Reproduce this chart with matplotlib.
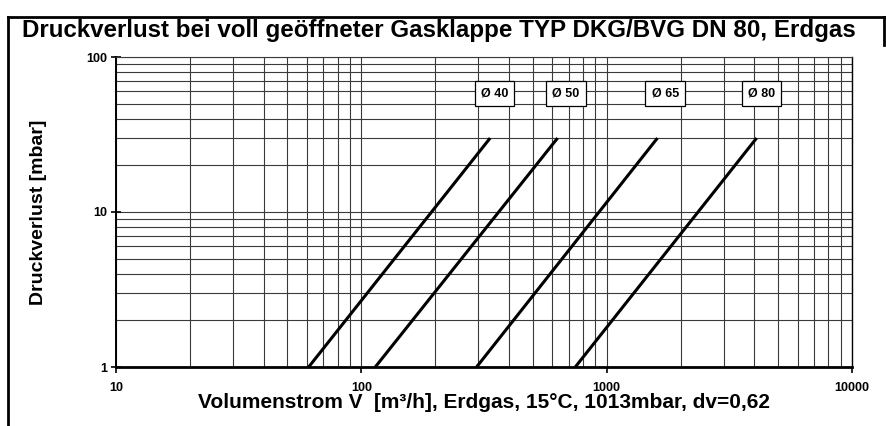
import matplotlib
matplotlib.use("Agg")
import matplotlib.pyplot as plt
from matplotlib.lines import Line2D
from matplotlib.ticker import LogLocator, FixedLocator, NullFormatter

plt.rcParams['font.family'] = ['Liberation Sans', 'DejaVu Sans']
plt.rcParams['font.weight'] = 'bold'

# Druckverlust-Kennlinien (Anfang bei 1 mbar, Ende bei 30 mbar)
diameters = ["Ø 40", "Ø 50", "Ø 65", "Ø 80"]
flow_start = [61, 114, 295, 745]      # m3/h bei 1 mbar
flow_end = [335, 631, 1611, 4085]     # m3/h bei 30 mbar
dp_start = 1
dp_end = 30
label_x = [349, 682, 1732, 4276]      # Beschriftungsposition
label_y = 58

x_ticks = [10, 100, 1000, 10000]
x_ticklabels = ["10", "100", "1000", "10000"]
y_ticks = [1, 10, 100]
y_ticklabels = ["1", "10", "100"]

fig = plt.figure(figsize=(8.87, 4.26), dpi=100)
ax = fig.add_axes([116 / 887, 59 / 426, 736 / 887, 310 / 426])

ax.set_xscale('log')
ax.set_yscale('log')
ax.set_xlim(10, 10000)
ax.set_ylim(1, 100)

for x0, x1 in zip(flow_start, flow_end):
    ax.plot([x0, x1], [dp_start, dp_end], color='black', lw=2.2, solid_capstyle='butt', zorder=3)

for txt, lx in zip(diameters, label_x):
    ax.text(lx, label_y, txt, ha='center', va='center', fontsize=9, fontweight='bold',
            bbox=dict(boxstyle='square,pad=0.5', facecolor='white', edgecolor='black', lw=0.9),
            zorder=4)

# Gitter
ax.xaxis.set_minor_locator(LogLocator(base=10, subs=range(2, 10)))
ax.yaxis.set_minor_locator(LogLocator(base=10, subs=range(2, 10)))
ax.xaxis.set_minor_formatter(NullFormatter())
ax.yaxis.set_minor_formatter(NullFormatter())
ax.grid(True, which='both', color='#3a3a3a', lw=0.8)
ax.set_axisbelow(True)

ax.xaxis.set_major_locator(FixedLocator(x_ticks))
ax.yaxis.set_major_locator(FixedLocator(y_ticks))
ax.set_xticklabels(x_ticklabels)
ax.set_yticklabels(y_ticklabels)
ax.tick_params(axis='x', which='major', direction='out', length=4, width=1.2, pad=7, labelsize=9)
ax.tick_params(axis='y', which='major', direction='inout', length=7, width=1.2, pad=3, labelsize=9)
ax.tick_params(which='minor', length=0)

ax.spines['bottom'].set_linewidth(2)
ax.spines['left'].set_linewidth(1.4)
ax.spines['top'].set_linewidth(0.8)
ax.spines['right'].set_linewidth(1)
ax.spines['top'].set_color('#3a3a3a')

ax.set_xlabel("Volumenstrom V  [m³/h], Erdgas, 15°C, 1013mbar, dv=0,62",
              fontsize=15, fontweight='bold', labelpad=-1)
ax.set_ylabel("Druckverlust [mbar]", fontsize=14, fontweight='bold', labelpad=28)

fig.text(439 / 887, 1 - 30 / 426,
         "Druckverlust bei voll geöffneter Gasklappe TYP DKG/BVG DN 80, Erdgas",
         ha='center', va='center', fontsize=17.4, fontweight='bold')

# Rahmen
fig.add_artist(Line2D([8 / 887, 8 / 887], [0, 1 - 17 / 426], color='black', lw=2,
                      transform=fig.transFigure))
fig.add_artist(Line2D([8 / 887, 884 / 887], [1 - 17 / 426, 1 - 17 / 426], color='black', lw=2,
                      transform=fig.transFigure))
fig.add_artist(Line2D([884 / 887, 884 / 887], [1 - 17 / 426, 1 - 45 / 426], color='black', lw=2,
                      transform=fig.transFigure))

fig.savefig("out.png", dpi=100)
